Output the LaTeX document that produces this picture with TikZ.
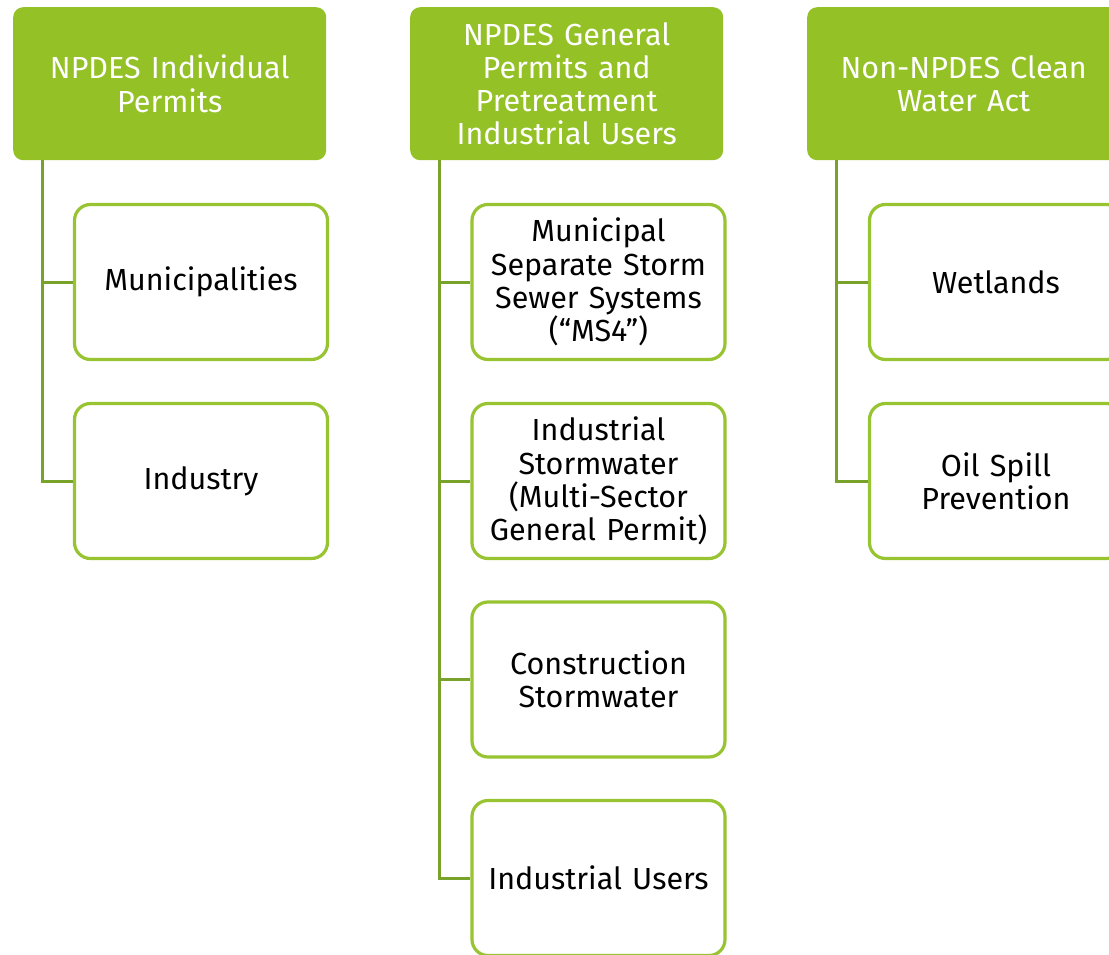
\documentclass[tikz,border=0pt]{standalone}
\usepackage{fontspec}
\setmainfont{Fira Sans}
\definecolor{headgreen}{RGB}{147,193,38}
\definecolor{boxgreen}{RGB}{152,196,50}
\definecolor{linegreen}{RGB}{120,162,42}
\begin{document}
\begin{tikzpicture}[x=1pt,y=-1pt,
        header/.style={shape=rectangle,rounded corners=10pt,fill=headgreen,text=white,
            minimum width=313pt,minimum height=153pt,inner sep=0pt,anchor=north west,
            align=center,text width=305pt,font=\fontsize{30.5}{33.3}\selectfont},
        item/.style={shape=rectangle,rounded corners=16pt,draw=boxgreen,fill=white,line width=3.2pt,
            minimum width=253pt,minimum height=155pt,inner sep=0pt,
            align=center,text width=248pt,font=\fontsize{30.5}{33.3}\selectfont},
        branch/.style={draw=linegreen,line width=3pt}]
    \useasboundingbox (0,0) rectangle (1109,955);
    \clip (0,0) rectangle (1109,955);
    % headers
    \node (Individual) [header] at (13,7) {NPDES Individual\\Permits};
    \node (General) [header] at (410,7) {NPDES General\\Permits and\\Pretreatment\\Industrial Users};
    \node (NonNPDES) [header] at (807,7) {Non-NPDES Clean\\Water Act};
    % first column
    \node (Municipalities) [item] at (201,282) {Municipalities};
    \node (Industry) [item] at (201,481) {Industry};
    % second column
    \node (MS4) [item] at (598.5,282) {Municipal\\Separate Storm\\Sewer Systems\\(“MS4”)};
    \node (Stormwater) [item] at (598.5,481) {Industrial\\Stormwater\\(Multi-Sector\\General Permit)};
    \node (Construction) [item] at (598.5,679.5) {Construction\\Stormwater};
    \node (Users) [item] at (598.5,878) {Industrial Users};
    % third column
    \node (Wetlands) [item] at (996,282) {Wetlands};
    \node (Oil Spill) [item] at (996,481) {Oil Spill\\Prevention};
    % connectors
    \draw [branch] (Individual.south west) ++(29,0) coordinate (a1) |- (Industry.west);
    \draw [branch] (a1 |- Municipalities.west) -- (Municipalities.west);
    \draw [branch] (General.south west) ++(29,0) coordinate (a2) |- (Users.west);
    \foreach \n in {MS4,Stormwater,Construction}
        \draw [branch] (a2 |- \n.west) -- (\n.west);
    \draw [branch] (NonNPDES.south west) ++(29,0) coordinate (a3) |- (Oil Spill.west);
    \draw [branch] (a3 |- Wetlands.west) -- (Wetlands.west);
\end{tikzpicture}
\end{document}
